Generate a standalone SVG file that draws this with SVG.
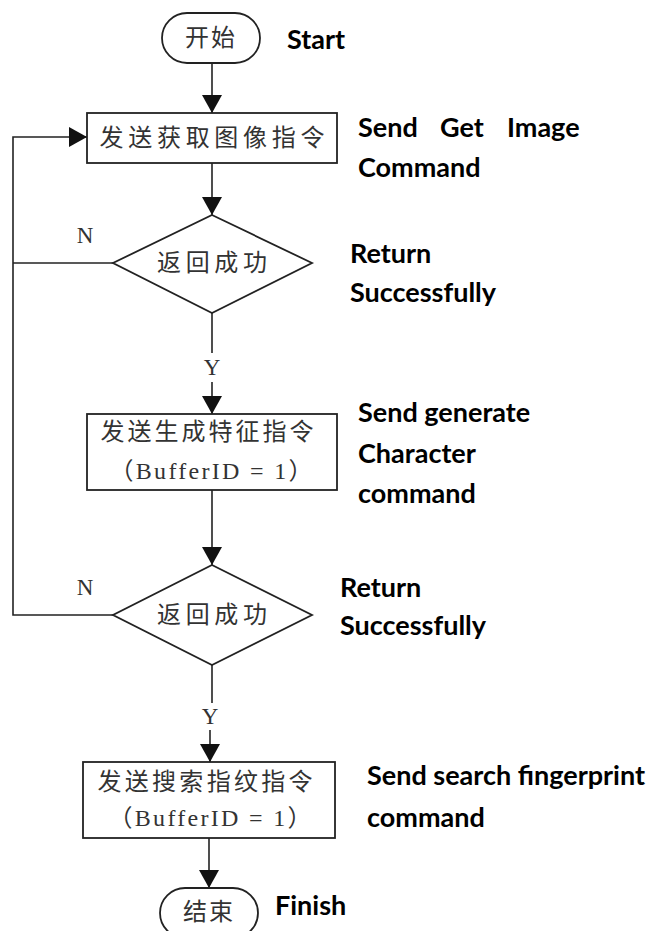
<svg xmlns="http://www.w3.org/2000/svg" width="657" height="931" viewBox="0 0 657 931">
<style>
.shape{fill:#fff;stroke:#222;stroke-width:1.8}
.conn{fill:none;stroke:#222;stroke-width:1.6}
.zh{font-family:"Liberation Serif","Noto Sans CJK SC",serif;font-size:24px;fill:#333;text-anchor:middle;dominant-baseline:central}
.yn{font-family:"Liberation Serif",serif;font-size:23px;fill:#333;text-anchor:middle;dominant-baseline:central}
.en{font-family:Lato,"Liberation Sans",sans-serif;font-weight:bold;font-size:27px;fill:#000}
</style>
<defs>
<marker id="arr" markerUnits="userSpaceOnUse" markerWidth="20" markerHeight="20" refX="18" refY="10" orient="auto">
<path d="M0,0 L18,10 L0,20 Z" fill="#111"/>
</marker>
</defs>
<g id="connectors">
<path class="conn" d="M212,63 V113" marker-end="url(#arr)"/>
<path class="conn" d="M212,163 V215" marker-end="url(#arr)"/>
<path class="conn" d="M212,313 V353"/>
<path class="conn" d="M212,382 V414" marker-end="url(#arr)"/>
<path class="conn" d="M212,490 V565" marker-end="url(#arr)"/>
<path class="conn" d="M212,665 V703"/>
<path class="conn" d="M210,730 V762" marker-end="url(#arr)"/>
<path class="conn" d="M209,838 V888" marker-end="url(#arr)"/>
<path class="conn" d="M113,263 H13"/>
<path class="conn" d="M113,615 H13 V137 H87" marker-end="url(#arr)"/>
<text class="yn" x="85" y="235">N</text>
<text class="yn" x="85" y="587">N</text>
<text class="yn" x="212" y="367">Y</text>
<text class="yn" x="210" y="716">Y</text>
</g>
<g id="start">
<rect class="shape" x="162" y="13" width="98" height="50" rx="25" ry="25"/>
<text class="zh" x="211" y="38" letter-spacing="2">开始</text>
<text class="en" x="287" y="49">Start</text>
</g>
<g id="get-image">
<rect class="shape" x="87" y="113" width="250" height="50"/>
<text class="zh" x="212" y="138" textLength="225" lengthAdjust="spacing">发送获取图像指令</text>
<text class="en" x="358" y="137">Send</text>
<text class="en" x="440" y="137">Get</text>
<text class="en" x="507" y="137">Image</text>
<text class="en" x="358" y="177">Command</text>
</g>
<g id="check1">
<polygon class="shape" points="212,215 312,263 212,313 113,263"/>
<text class="zh" x="212" y="263" textLength="110" lengthAdjust="spacing">返回成功</text>
<text class="en" x="350" y="263">Return</text>
<text class="en" x="350" y="302">Successfully</text>
</g>
<g id="gen-char">
<rect class="shape" x="87" y="414" width="250" height="76"/>
<text class="zh" x="207" y="432" textLength="213" lengthAdjust="spacing">发送生成特征指令</text>
<text class="zh" x="211" y="471" textLength="203" lengthAdjust="spacing">（BufferID = 1）</text>
<text class="en" x="358" y="422">Send generate</text>
<text class="en" x="358" y="463">Character</text>
<text class="en" x="358" y="503">command</text>
</g>
<g id="check2">
<polygon class="shape" points="212,565 312,615 212,665 113,615"/>
<text class="zh" x="212" y="615" textLength="110" lengthAdjust="spacing">返回成功</text>
<text class="en" x="340" y="597">Return</text>
<text class="en" x="340" y="635">Successfully</text>
</g>
<g id="search">
<rect class="shape" x="83" y="762" width="252" height="76"/>
<text class="zh" x="205" y="782" textLength="215" lengthAdjust="spacing">发送搜索指纹指令</text>
<text class="zh" x="210" y="818" textLength="203" lengthAdjust="spacing">（BufferID = 1）</text>
<text class="en" x="367" y="785">Send search fingerprint</text>
<text class="en" x="367" y="827">command</text>
</g>
<g id="finish">
<rect class="shape" x="160" y="888" width="98" height="50" rx="25" ry="25"/>
<text class="zh" x="209" y="912" letter-spacing="2">结束</text>
<text class="en" x="275" y="915">Finish</text>
</g>
</svg>
